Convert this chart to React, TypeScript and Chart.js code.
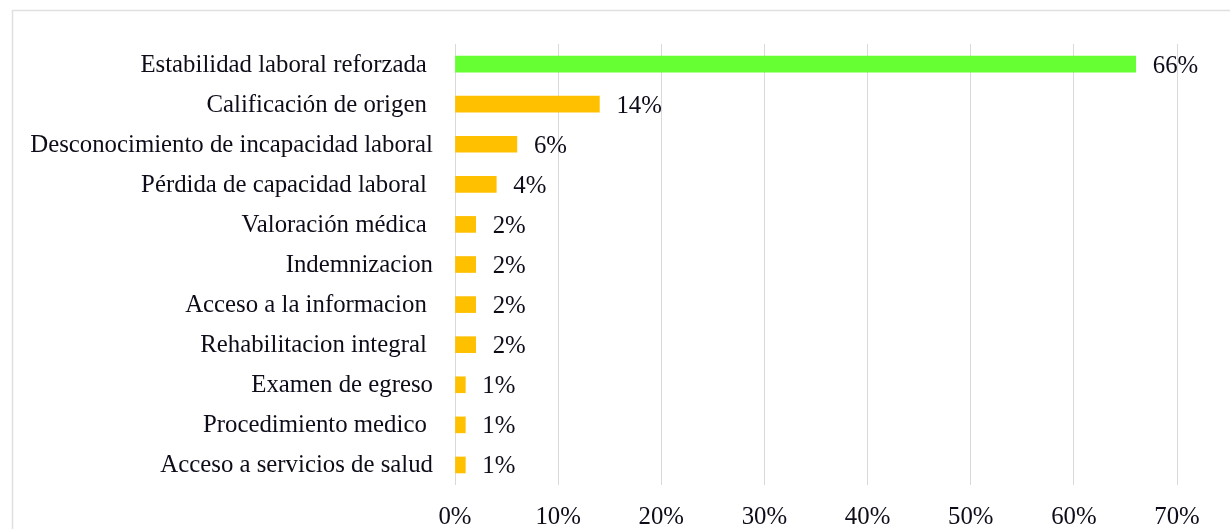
import React, { useEffect, useRef } from "react";
import { Chart, registerables } from "chart.js";

Chart.register(...registerables);

const categories = [
  "Estabilidad laboral reforzada ",
  "Calificación de origen ",
  "Desconocimiento de incapacidad laboral",
  "Pérdida de capacidad laboral ",
  "Valoración médica ",
  "Indemnizacion",
  "Acceso a la informacion ",
  "Rehabilitacion integral ",
  "Examen de egreso",
  "Procedimiento medico ",
  "Acceso a servicios de salud",
];

const values = [66, 14, 6, 4, 2, 2, 2, 2, 1, 1, 1];

const xTicks = [0, 10, 20, 30, 40, 50, 60, 70];

const FONT = "'Liberation Serif', 'Times New Roman', serif";
const FONT_SIZE = 24.8;
const TEXT_COLOR = "#0d0d1a";

const frameAndLabels = {
  id: "frameAndLabels",
  beforeDraw(chart: any) {
    const ctx = chart.ctx;
    ctx.save();
    ctx.strokeStyle = "#e0e0e0";
    ctx.lineWidth = 1.5;
    ctx.strokeRect(12.5, 10.5, chart.width + 20, chart.height + 20);
    ctx.restore();
  },
  afterDatasetsDraw(chart: any) {
    const ctx = chart.ctx;
    const meta = chart.getDatasetMeta(0);
    ctx.save();
    ctx.font = `${FONT_SIZE}px ${FONT}`;
    ctx.fillStyle = TEXT_COLOR;
    ctx.textAlign = "left";
    ctx.textBaseline = "middle";
    meta.data.forEach((el: any, i: number) => {
      ctx.fillText(`${values[i]}%`, el.x + 17, el.y + 2);
    });
    ctx.restore();
  },
};

export default function App() {
  const ref = useRef<HTMLCanvasElement>(null);

  useEffect(() => {
    document.body.style.margin = "0";
    const chart = new Chart(ref.current!, {
      type: "bar",
      data: {
        labels: categories,
        datasets: [
          {
            data: values,
            backgroundColor: values.map((_, i) => (i === 0 ? "#66FF33" : "#FFC000")),
            borderWidth: 0,
            barThickness: 16,
          },
        ],
      },
      options: {
        indexAxis: "y",
        responsive: false,
        animation: false,
        layout: { padding: { top: 44, right: 53, left: 0, bottom: 0 } },
        plugins: {
          legend: { display: false },
          tooltip: { enabled: false },
        },
        scales: {
          x: {
            min: 0,
            max: 70,
            afterBuildTicks(scale: any) {
              scale.ticks = xTicks.map((v) => ({ value: v }));
            },
            afterFit(scale: any) {
              scale.height = 44;
            },
            grid: { display: true, color: "#d9d9d9", lineWidth: 1, drawTicks: false },
            border: { display: false },
            ticks: {
              padding: 18,
              color: TEXT_COLOR,
              font: { family: FONT, size: FONT_SIZE },
              callback: (v: any) => `${v}%`,
            },
          },
          y: {
            afterFit(scale: any) {
              scale.width = 455;
            },
            grid: { display: false, drawTicks: false },
            border: { display: false },
            ticks: {
              padding: 22,
              labelOffset: 1,
              color: TEXT_COLOR,
              font: { family: FONT, size: FONT_SIZE },
            },
          },
        },
      },
      plugins: [frameAndLabels],
    });
    return () => chart.destroy();
  }, []);

  return (
    <div style={{ width: 1230, height: 529 }}>
      <canvas ref={ref} width={1230} height={529} />
    </div>
  );
}
